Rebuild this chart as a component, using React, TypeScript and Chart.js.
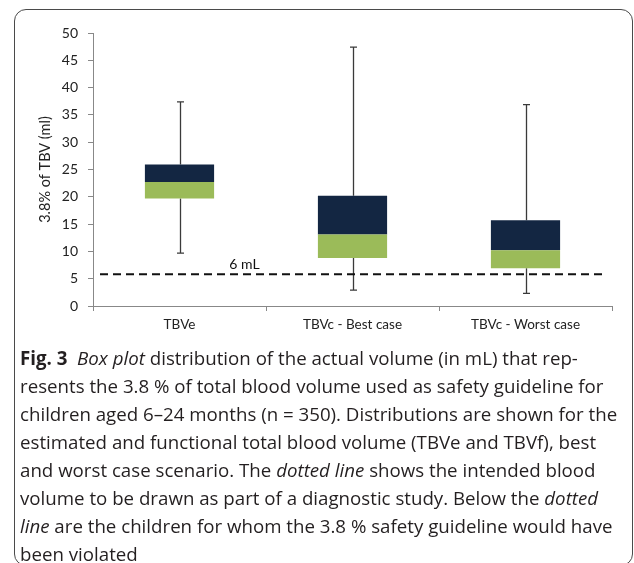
import React, { useEffect, useRef } from "react";
import { Chart, registerables } from "chart.js";

Chart.register(...registerables);

const categories = ["TBVe", "TBVc - Best case", "TBVc - Worst case"];
const whiskerMin = [9.7, 2.9, 2.3];
const q1 = [19.7, 8.8, 6.9];
const median = [22.7, 13.1, 10.2];
const q3 = [25.9, 20.2, 15.7];
const whiskerMax = [37.4, 47.4, 36.9];
const threshold = 5.8;
const thresholdLabel = "6 mL";
const yTitle = "3.8% of TBV (ml)";

const NAVY = "#132642";
const GREEN = "#9bbb59";
const AXIS = "#888888";
const CHART_FONT = "Lato";

const whiskerPlugin = {
  id: "whiskers",
  beforeDatasetsDraw(chart: any) {
    const { ctx, scales, chartArea } = chart;
    const xs = scales.x;
    const ys = scales.y;
    ctx.save();
    ctx.strokeStyle = "#3a3a3a";
    ctx.lineWidth = 1.3;
    categories.forEach((_, i) => {
      const x = Math.round(xs.getPixelForValue(i)) + 0.5;
      const yMax = ys.getPixelForValue(whiskerMax[i]);
      const yMin = ys.getPixelForValue(whiskerMin[i]);
      const yQ3 = ys.getPixelForValue(q3[i]);
      const yQ1 = ys.getPixelForValue(q1[i]);
      ctx.beginPath();
      ctx.moveTo(x, yMax);
      ctx.lineTo(x, yQ3);
      ctx.moveTo(x, yQ1);
      ctx.lineTo(x, yMin);
      ctx.moveTo(x - 3.5, yMax);
      ctx.lineTo(x + 3.5, yMax);
      ctx.moveTo(x - 3.5, yMin);
      ctx.lineTo(x + 3.5, yMin);
      ctx.stroke();
    });
    // threshold dashed line
    const yt = ys.getPixelForValue(threshold);
    ctx.strokeStyle = "#111111";
    ctx.lineWidth = 2;
    ctx.setLineDash([8, 5]);
    ctx.beginPath();
    ctx.moveTo(chartArea.left + 7, yt);
    ctx.lineTo(chartArea.right - 8, yt);
    ctx.stroke();
    ctx.setLineDash([]);
    ctx.fillStyle = "#111111";
    ctx.font = `14px ${CHART_FONT}`;
    ctx.textAlign = "center";
    ctx.textBaseline = "middle";
    ctx.fillText(thresholdLabel, xs.getPixelForValue(0) + 65, yt - 10);
    ctx.restore();
  },
};

function BoxChart() {
  const ref = useRef<HTMLCanvasElement | null>(null);
  useEffect(() => {
    if (!ref.current) return;
    const chart = new Chart(ref.current, {
      type: "bar",
      data: {
        labels: categories,
        datasets: [
          {
            label: "Q1-median",
            data: categories.map((_, i) => [q1[i], median[i]]) as any,
            backgroundColor: GREEN,
            borderWidth: 0,
            barPercentage: 0.4,
            categoryPercentage: 1,
          },
          {
            label: "median-Q3",
            data: categories.map((_, i) => [median[i], q3[i]]) as any,
            backgroundColor: NAVY,
            borderWidth: 0,
            barPercentage: 0.4,
            categoryPercentage: 1,
          },
        ],
      },
      options: {
        animation: false,
        responsive: false,
        layout: { padding: { top: 33, right: 22, bottom: 0, left: 0 } },
        plugins: {
          legend: { display: false },
          tooltip: { enabled: false },
        },
        scales: {
          x: {
            stacked: true,
            offset: true,
            grid: {
              display: true,
              drawOnChartArea: false,
              drawTicks: true,
              tickLength: 5,
              color: AXIS,
              offset: true,
            },
            border: { color: AXIS, width: 1 },
            ticks: {
              font: { family: CHART_FONT, size: 13.5 },
              color: "#222222",
              padding: 6,
              maxRotation: 0,
            },
            afterFit(scale: any) {
              scale.height = 39;
            },
          },
          y: {
            stacked: false,
            min: 0,
            max: 50,
            ticks: {
              stepSize: 5,
              font: { family: CHART_FONT, size: 14 },
              color: "#222222",
              padding: 10,
            },
            grid: {
              drawOnChartArea: false,
              drawTicks: true,
              tickLength: 5,
              color: AXIS,
            },
            border: { color: AXIS, width: 1 },
            title: {
              display: true,
              text: yTitle,
              font: { family: CHART_FONT, size: 14.5 },
              color: "#222222",
              padding: { top: 37, bottom: 0 },
            },
            afterFit(scale: any) {
              scale.width = 93;
            },
          },
        },
      },
      plugins: [whiskerPlugin],
    });
    return () => chart.destroy();
  }, []);
  return <canvas ref={ref} width={634} height={345} style={{ display: "block", width: 634, height: 345 }} />;
}

const captionLines: React.ReactNode[] = [
  <>
    <b>Fig. 3</b>&nbsp; <i>Box plot</i> distribution of the actual volume (in mL) that rep-
  </>,
  <>resents the 3.8 % of total blood volume used as safety guideline for</>,
  <>children aged 6–24 months (n = 350). Distributions are shown for the</>,
  <>estimated and functional total blood volume (TBVe and TBVf), best</>,
  <>
    and worst case scenario. The <i>dotted line</i> shows the intended blood
  </>,
  <>
    volume to be drawn as part of a diagnostic study. Below the <i>dotted</i>
  </>,
  <>
    <i>line</i> are the children for whom the 3.8 % safety guideline would have
  </>,
  <>been violated</>,
];

export default function App() {
  return (
    <div style={{ position: "absolute", left: 0, top: 0, width: 634, height: 563, background: "#fff", overflow: "hidden" }}>
      <div
        style={{
          position: "absolute",
          left: 14,
          top: 9,
          width: 619,
          height: 557,
          border: "1.3px solid #4a4a4a",
          borderRadius: 12,
          boxSizing: "border-box",
        }}
      />
      <div style={{ position: "absolute", left: 0, top: 0 }}>
        <BoxChart />
      </div>
      <div
        style={{
          position: "absolute",
          left: 20,
          top: 344,
          fontFamily: "'Open Sans'",
          fontSize: 18.7,
          lineHeight: "28px",
          color: "#231f20",
          letterSpacing: 0,
        }}
      >
        {captionLines.map((l, i) => (
          <div key={i} style={{ whiteSpace: "nowrap" }}>
            {l}
          </div>
        ))}
      </div>
    </div>
  );
}
